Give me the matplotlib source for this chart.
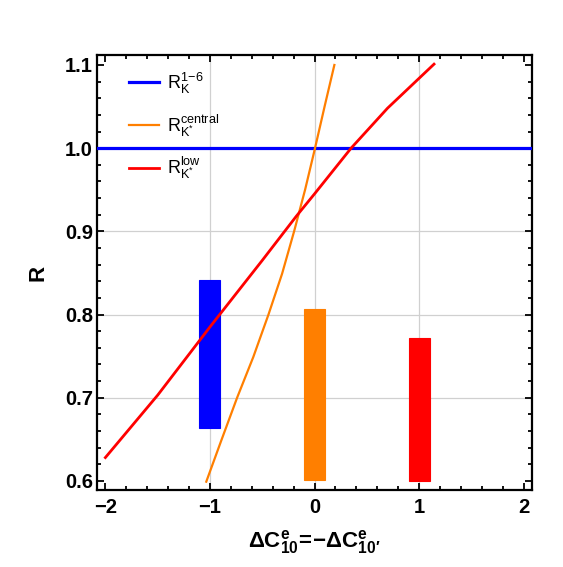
import numpy as np
import matplotlib
matplotlib.use("Agg")
import matplotlib.pyplot as plt
from matplotlib.ticker import MultipleLocator

plt.rcParams['font.family'] = ['Liberation Sans', 'DejaVu Sans']
plt.rcParams['mathtext.fontset'] = 'custom'
plt.rcParams['mathtext.rm'] = 'Liberation Sans'
plt.rcParams['mathtext.it'] = 'Liberation Sans'
plt.rcParams['mathtext.bf'] = 'Liberation Sans:bold'

# curves
x_low = [-2.0, -1.5, -1.0, -0.5, -0.175, 0.0, 0.35, 0.698, 1.143]
r_low = [0.628, 0.703, 0.785, 0.865, 0.918, 0.945, 1.0, 1.048, 1.101]

x_central = [-1.035, -0.89, -0.74, -0.585, -0.44, -0.31, -0.195, -0.09, 0.005, 0.10, 0.19]
r_central = [0.599, 0.649, 0.70, 0.749, 0.80, 0.849, 0.90, 0.95, 1.0, 1.052, 1.10]

x_16 = [-2.08, 2.08]
r_16 = [1.0, 1.0]

# measured ranges (bars)
bar_x = [-1, 0, 1]
bar_lo = [0.663, 0.601, 0.600]
bar_hi = [0.842, 0.807, 0.772]
bar_col = ['#0000ff', '#ff7f00', '#ff0000']

fig = plt.figure(figsize=(5.63, 5.67), dpi=100)
ax = fig.add_axes([97 / 563, 1 - 490 / 567, 435 / 563, 435 / 567])

for xv in [-1, 0, 1]:
    ax.axvline(xv, color='#d0d0d0', lw=0.9, zorder=0)
for yv in [0.7, 0.8, 0.9]:
    ax.axhline(yv, color='#d0d0d0', lw=0.9, zorder=0)

heights = [h - l for h, l in zip(bar_hi, bar_lo)]
ax.bar(bar_x, heights, bottom=bar_lo, width=0.2, color=bar_col,
       edgecolor=bar_col, linewidth=0.8, zorder=2)

ax.plot(x_16, r_16, color='#0000ff', lw=2.3, zorder=3,
        label=r'$\mathregular{R_K^{1\!-\!6}}$')
ax.plot(x_central, r_central, color='#ff7f00', lw=1.6, zorder=3,
        label=r'$\mathregular{R_{K^{*}}^{central}}$')
ax.plot(x_low, r_low, color='#ff0000', lw=2.0, zorder=4,
        label=r'$\mathregular{R_{K^{*}}^{low}}$')

ax.set_xlim(-2.08, 2.08)
ax.set_ylim(0.589, 1.112)
ax.xaxis.set_minor_locator(MultipleLocator(0.2))
ax.yaxis.set_minor_locator(MultipleLocator(0.02))
ax.set_xticks([-2, -1, 0, 1, 2])
ax.set_xticklabels(['\u22122', '\u22121', '0', '1', '2'])
ax.set_yticks([0.6, 0.7, 0.8, 0.9, 1.0, 1.1])
ax.set_yticklabels(['0.6', '0.7', '0.8', '0.9', '1.0', '1.1'])

ax.tick_params(which='both', direction='in', top=True, right=True, width=1.3)
ax.tick_params(which='major', length=5, labelsize=14.5)
ax.tick_params(axis='y', which='major', pad=3)
ax.tick_params(axis='x', which='major', pad=6)
ax.tick_params(which='minor', length=3)
for lab in ax.get_xticklabels() + ax.get_yticklabels():
    lab.set_fontweight('bold')
for sp in ax.spines.values():
    sp.set_linewidth(1.6)

ax.set_ylabel('R', fontsize=16, fontweight='bold', labelpad=12)
ax.set_xlabel(r'$\mathbf{\Delta C^{e}_{10}}\!\mathbf{=}\!\mathbf{-\Delta C^{e}_{10\prime}}$',
              fontsize=16, labelpad=8)

ax.legend(loc='upper left', bbox_to_anchor=(0.052, 0.985), frameon=False,
          fontsize=13, handlelength=1.7, handletextpad=0.45, labelspacing=0.9,
          borderpad=0)

fig.savefig('out.png', dpi=100)
